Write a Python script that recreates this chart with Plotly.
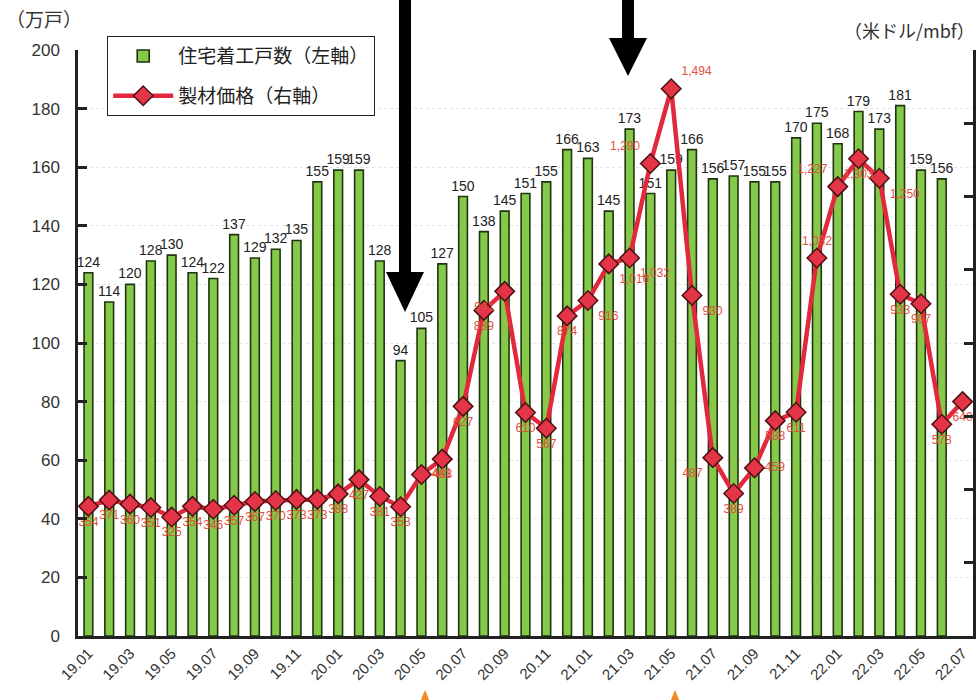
import plotly.graph_objects as go

# Month labels (YY.MM)
months = [
    "19.01", "19.02", "19.03", "19.04", "19.05", "19.06", "19.07", "19.08", "19.09", "19.10", "19.11", "19.12",
    "20.01", "20.02", "20.03", "20.04", "20.05", "20.06", "20.07", "20.08", "20.09", "20.10", "20.11", "20.12",
    "21.01", "21.02", "21.03", "21.04", "21.05", "21.06", "21.07", "21.08", "21.09", "21.10", "21.11", "21.12",
    "22.01", "22.02", "22.03", "22.04", "22.05", "22.06", "22.07",
]

# Housing starts, 10k units (left axis), 19.01 - 22.06
housing_starts = [
    124, 114, 120, 128, 130, 124, 122, 137, 129, 132, 135, 155,
    159, 159, 128, 94, 105, 127, 150, 138, 145, 151, 155, 166,
    163, 145, 173, 151, 159, 166, 156, 157, 155, 155, 170, 175,
    168, 179, 173, 181, 159, 156,
]

# Lumber price, USD/mbf (right axis), 19.01 - 22.07
lumber_price = [
    354, 371, 360, 351, 325, 354, 346, 357, 367, 370, 373, 373,
    388, 427, 381, 353, 441, 483, 627, 889, 941, 610, 567, 874,
    916, 1016, 1032, 1290, 1494, 930, 487, 389, 459, 588, 611, 1032,
    1227, 1303, 1250, 933, 907, 578, 640,
]

# where each price label sits relative to its marker
price_label_pos = (
    ["bottom center"] * 16
    + ["middle right", "bottom center", "bottom center", "bottom center", "bottom left",
       "bottom center", "bottom center", "bottom center", "bottom right", "bottom right",
       "bottom right", "top left", "top right", "bottom right", "bottom left",
       "bottom center", "middle right", "bottom center", "bottom center", "top center",
       "top left", "bottom center", "bottom right", "bottom center", "bottom center",
       "bottom center", "bottom center"]
)

W, H = 978, 700
ML, MR, MT, MB = 78, 5, 50, 64
PW, PH = W - ML - MR, H - MT - MB

BASE_FONT = "Liberation Sans, Arial, Noto Sans CJK JP, sans-serif"
JP_FONT = "Noto Sans CJK JP, Liberation Sans, sans-serif"


def px(x):
    return (x - ML) / PW


def py(y):
    return (H - MB - y) / PH


fig = go.Figure()

fig.add_trace(go.Bar(
    x=months[:len(housing_starts)],
    y=housing_starts,
    name="住宅着工戸数（左軸）",
    legendgroup="starts",
    width=0.42,
    marker=dict(color="#86c94a", line=dict(color="#1f3510", width=1.6)),
    text=[str(v) for v in housing_starts],
    textposition="outside",
    constraintext="none",
    cliponaxis=False,
    textfont=dict(family=BASE_FONT, size=14, color="#222222"),
    yaxis="y",
))

fig.add_trace(go.Scatter(
    x=months,
    y=lumber_price,
    name="製材価格（右軸）",
    legendgroup="price",
    mode="lines+markers+text",
    line=dict(color="#e2283c", width=4.5),
    marker=dict(symbol="diamond", size=15, color="#e33448",
                line=dict(color="#4a1212", width=1.5)),
    text=[f"{v:,}" for v in lumber_price],
    textposition=price_label_pos,
    textfont=dict(family=BASE_FONT, size=12, color="#e0503e"),
    cliponaxis=False,
    yaxis="y2",
))

# Thick black pointer arrows drawn over the chart
shapes = []
for xc, y_tail_end, y_tip in [(405, 272, 312), (628, 38, 76)]:
    shapes.append(dict(type="rect", xref="paper", yref="paper",
                       x0=px(xc - 6), x1=px(xc + 6), y0=py(y_tail_end), y1=py(-5),
                       fillcolor="black", line=dict(width=0), layer="above"))
    shapes.append(dict(type="path", xref="paper", yref="paper",
                       path=(f"M {px(xc - 19)} {py(y_tail_end)} L {px(xc + 19)} {py(y_tail_end)} "
                             f"L {px(xc)} {py(y_tip)} Z"),
                       fillcolor="black", line=dict(width=0), layer="above"))

# small orange pointer tips at the bottom edge
for xc in [425, 675]:
    shapes.append(dict(type="path", xref="paper", yref="paper",
                       path=(f"M {px(xc - 5)} {py(702)} L {px(xc + 5)} {py(702)} "
                             f"L {px(xc)} {py(690)} Z"),
                       fillcolor="#f08a24", line=dict(width=0), layer="above"))

fig.update_layout(
    width=W, height=H,
    margin=dict(l=ML, r=MR, t=MT, b=MB),
    paper_bgcolor="white",
    plot_bgcolor="white",
    font=dict(family=BASE_FONT, color="#222222"),
    showlegend=True,
    legend=dict(
        x=px(107), y=py(36), xanchor="left", yanchor="top",
        bgcolor="white", bordercolor="#222222", borderwidth=1.2,
        font=dict(family=JP_FONT, size=19, color="#222222"),
        itemwidth=60, tracegroupgap=12,
    ),
    bargap=0.5,
    shapes=shapes,
    xaxis=dict(
        type="category",
        categoryorder="array",
        categoryarray=months,
        range=[-0.5, len(months) - 0.5],
        tickmode="array",
        tickvals=months[::2],
        ticktext=months[::2],
        tickangle=-45,
        tickfont=dict(family=BASE_FONT, size=15, color="#333333"),
        showline=True, linecolor="#222222", linewidth=2.5,
        ticks="", showgrid=False, zeroline=False,
    ),
    yaxis=dict(
        range=[0, 200], dtick=20,
        tickfont=dict(family=BASE_FONT, size=17, color="#333333"),
        showline=True, linecolor="#222222", linewidth=2.5,
        ticks="inside", ticklen=9, tickwidth=2.5, tickcolor="#222222",
        ticklabelstandoff=12,
        showgrid=True, gridcolor="#e4e4e4", griddash="dot", gridwidth=1,
        zeroline=False,
    ),
    yaxis2=dict(
        range=[0, 1600], dtick=200,
        overlaying="y", side="right",
        showticklabels=False,
        showline=True, linecolor="#222222", linewidth=2.5,
        ticks="inside", ticklen=9, tickwidth=2.5, tickcolor="#222222",
        showgrid=False, zeroline=False,
    ),
    annotations=[
        dict(text="（万戸）", xref="paper", yref="paper", x=px(4), y=py(18),
             xanchor="left", yanchor="middle", showarrow=False,
             font=dict(family=JP_FONT, size=19, color="#333333")),
        dict(text="（米ドル/mbf）", xref="paper", yref="paper", x=px(977), y=py(30),
             xanchor="right", yanchor="middle", showarrow=False,
             font=dict(family=JP_FONT, size=18, color="#333333")),
    ],
)

fig.write_html("out.html")
